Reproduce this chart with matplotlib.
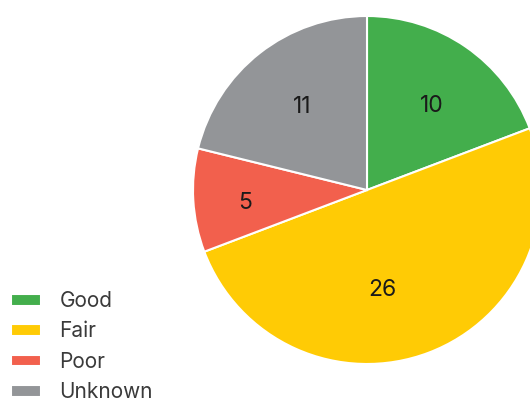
import numpy as np
import matplotlib.pyplot as plt

# data
labels = ['Good', 'Fair', 'Poor', 'Unknown']
counts = [10, 26, 5, 11]
colors = ['#43ae4c', '#ffcb05', '#f2604d', '#939598']

# label placement: distance along the slice's middle ray and a small nudge (px)
label_dist = [0.62, 0.57, 0.70, 0.61]
label_nudge = [(4, -5), (-20, -7), (0, -6), (1, -1)]

plt.rcParams['font.family'] = ['Inter', 'DejaVu Sans']

fig = plt.figure(figsize=(5.3, 4), dpi=100)
ax = fig.add_axes([0, 0, 1, 1])

wedges, texts = ax.pie(counts, colors=colors, startangle=90, counterclock=False,
                       center=(367, 210), radius=174,
                       wedgeprops=dict(edgecolor='white', linewidth=1.5))

# pie() resets the limits, so set the pixel frame afterwards
ax.set_xlim(0, 530)
ax.set_ylim(0, 400)
ax.set_aspect('equal')
ax.axis('off')

# value labels inside the slices
for w, n, d, (nx, ny) in zip(wedges, counts, label_dist, label_nudge):
    mid = np.deg2rad((w.theta1 + w.theta2) / 2)
    ax.text(w.center[0] + d * w.r * np.cos(mid) + nx, w.center[1] + d * w.r * np.sin(mid) + ny,
            str(n), ha='center', va='center', fontsize=16.5, color='#1a1a1a')

ax.legend(wedges, labels, loc='upper left', bbox_to_anchor=(0.02, 109 / 400),
          frameon=False, prop=dict(size=15), handlelength=1.45,
          handleheight=0.5, handletextpad=0.9, labelspacing=0.5, borderpad=0,
          borderaxespad=0, labelcolor='#3a3a3a')

fig.savefig('out.png', dpi=100)
